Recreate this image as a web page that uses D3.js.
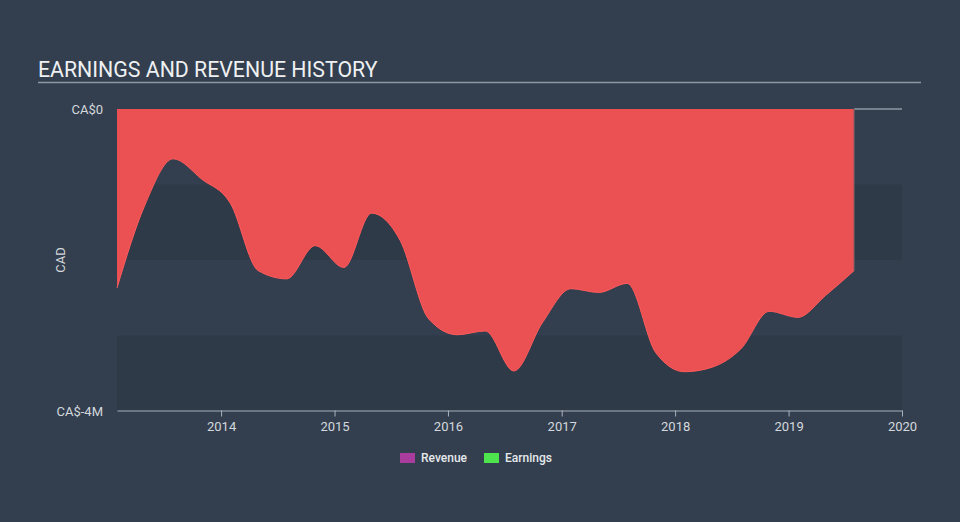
<!DOCTYPE html>
<html>
<head>
<meta charset="utf-8">
<script src="https://cdn.jsdelivr.net/npm/d3@7"></script>
<style>
  body { margin: 0; background: #333f4e; }
  text { font-family: Roboto, "Open Sans", sans-serif; }
</style>
</head>
<body>
<div id="container"></div>
<script>
/* CONSTANTS AND GLOBALS */
const width = 960;
const height = 522;
const margin = { top: 109, right: 58, bottom: 112, left: 117 };

// quarterly reporting dates
const dates = [
  "2013-01-31", "2013-04-30", "2013-07-31", "2013-10-31",
  "2014-01-31", "2014-04-30", "2014-07-31", "2014-10-31",
  "2015-01-31", "2015-04-30", "2015-07-31", "2015-10-31",
  "2016-01-31", "2016-04-30", "2016-07-31", "2016-10-31",
  "2017-01-31", "2017-04-30", "2017-07-31", "2017-10-31",
  "2018-01-31", "2018-04-30", "2018-07-31", "2018-10-31",
  "2019-01-31", "2019-04-30", "2019-07-31"
];
// earnings in CA$ millions
const earnings = [
  -2.37, -1.28, -0.66, -0.93, -1.25, -2.14, -2.25, -1.81, -2.10,
  -1.38, -1.74, -2.78, -2.99, -2.94, -3.47, -2.83, -2.38, -2.43,
  -2.31, -3.23, -3.48, -3.42, -3.18, -2.68, -2.76, -2.47, -2.14
];
// revenue in CA$ millions (none reported)
const revenue = [0, 0];
const yTicks = [0, -4];
const xTickYears = [2014, 2015, 2016, 2017, 2018, 2019, 2020];

const parse = d3.timeParse("%Y-%m-%d");
const data = dates.map((d, i) => ({ date: parse(d), value: earnings[i] }));

/* SCALES */
const xScale = d3.scaleTime()
  .domain([data[0].date, new Date(2020, 0, 1)])
  .range([margin.left, width - margin.right]);

const yScale = d3.scaleLinear()
  .domain([-4, 0])
  .range([height - margin.bottom + 1, margin.top]);

/* HTML ELEMENTS */
const svg = d3.select("#container")
  .append("svg")
  .attr("width", width)
  .attr("height", height);

svg.append("rect")
  .attr("width", width)
  .attr("height", height)
  .attr("fill", "#333f4e");

// Title
svg.append("text")
  .attr("x", 38)
  .attr("y", 77)
  .attr("fill", "#eef0f2")
  .attr("font-size", 21.3)
  .text("EARNINGS AND REVENUE HISTORY");

svg.append("line")
  .attr("x1", 38).attr("x2", 921)
  .attr("y1", 82.5).attr("y2", 82.5)
  .attr("stroke", "#8e98a3")
  .attr("stroke-width", 1.5);

// Background bands (1M each, every other one darker)
const bands = d3.range(0, 4);
svg.selectAll(".band")
  .data(bands)
  .join("rect")
  .attr("class", "band")
  .attr("x", margin.left)
  .attr("width", width - margin.right - margin.left)
  .attr("y", d => yScale(-d))
  .attr("height", d => yScale(-d - 1) - yScale(-d))
  .attr("fill", d => d % 2 ? "#2e3a48" : "#333f4e");

// Earnings area
const area = d3.area()
  .x(d => xScale(d.date))
  .y0(yScale(0))
  .y1(d => yScale(d.value))
  .curve(d3.curveMonotoneX);

svg.append("path")
  .datum(data)
  .attr("d", area)
  .attr("fill", "#eb5053");

const line = d3.line()
  .x(d => xScale(d.date))
  .y(d => yScale(d.value))
  .curve(d3.curveMonotoneX);

svg.append("path")
  .datum(data)
  .attr("d", line)
  .attr("fill", "none")
  .attr("stroke", "#ff5b5b")
  .attr("stroke-width", 1);

// Revenue line after last report
const last = data[data.length - 1].date;
svg.append("line")
  .attr("x1", xScale(last))
  .attr("x2", xScale.range()[1])
  .attr("y1", yScale(revenue[1]))
  .attr("y2", yScale(revenue[1]))
  .attr("stroke", "#8e98a3")
  .attr("stroke-width", 1.5);

svg.append("line")
  .attr("x1", xScale(last))
  .attr("x2", xScale(last))
  .attr("y1", yScale(0))
  .attr("y2", yScale(data[data.length - 1].value))
  .attr("stroke", "#6a5a62")
  .attr("stroke-width", 1);

// Append x axis
const xAxis = d3.axisBottom(xScale)
  .tickValues(xTickYears.map(y => new Date(y, 0, 1)))
  .tickFormat(d3.timeFormat("%Y"))
  .tickSize(6)
  .tickSizeOuter(0);

const gx = svg.append("g")
  .attr("transform", `translate(0,${yScale(-4) - 0.5})`)
  .call(xAxis);
gx.select(".domain").attr("stroke", "#a9b2bc");
gx.selectAll(".tick line").attr("stroke", "#a9b2bc");
gx.selectAll(".tick text")
  .attr("fill", "#d4d8dd")
  .attr("font-size", 13)
  .attr("font-family", "Roboto, sans-serif")
  .attr("dy", "0.85em");

// Y labels
svg.selectAll(".ylabel")
  .data(yTicks)
  .join("text")
  .attr("class", "ylabel")
  .attr("x", 103)
  .attr("y", d => yScale(d))
  .attr("dy", "0.35em")
  .attr("text-anchor", "end")
  .attr("fill", "#d4d8dd")
  .attr("font-size", 13)
  .text(d => d === 0 ? "CA$0" : `CA$${d}M`);

svg.append("text")
  .attr("transform", `translate(65,${(yScale(0) + yScale(-4)) / 2}) rotate(-90)`)
  .attr("text-anchor", "middle")
  .attr("fill", "#d4d8dd")
  .attr("font-size", 13)
  .text("CAD");

// Legend
const legendItems = [
  { name: "Revenue", color: "#a93d9e", x: 400 },
  { name: "Earnings", color: "#4ee44e", x: 484 }
];
const lg = svg.selectAll(".legend")
  .data(legendItems)
  .join("g")
  .attr("class", "legend")
  .attr("transform", d => `translate(${d.x},453)`);
lg.append("rect")
  .attr("width", 15)
  .attr("height", 10)
  .attr("fill", d => d.color);
lg.append("text")
  .attr("x", 21)
  .attr("y", 5)
  .attr("dy", "0.35em")
  .attr("fill", "#e6e9ec")
  .attr("font-size", 12)
  .attr("font-weight", 500)
  .text(d => d.name);
</script>
</body>
</html>
